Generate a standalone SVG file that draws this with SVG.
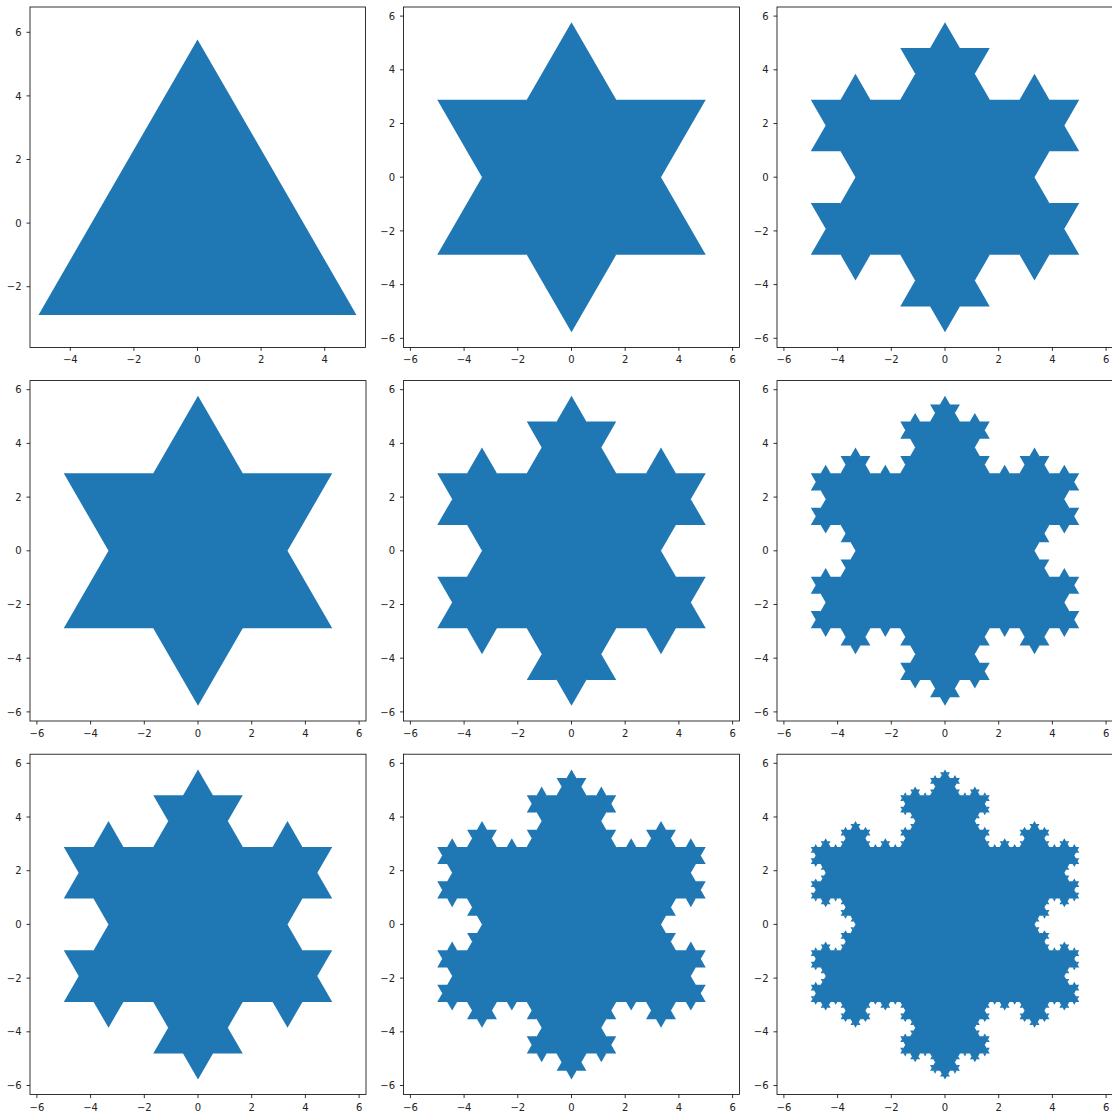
<svg xmlns="http://www.w3.org/2000/svg" width="1112" height="1116" viewBox="0 0 1112 1116">
<style>
.f{fill:#1f77b4}
.ax{fill:none;stroke:#000;stroke-width:0.8}
.tk{fill:none;stroke:#000;stroke-width:0.8}
text{font-family:"DejaVu Sans","Liberation Sans",sans-serif;font-size:10px;fill:#222}
.xl{text-anchor:middle}
.yl{text-anchor:end}
</style>
<defs>
<polygon id="b1" class="f" points="0.3333333,0 0.5,-0.2886751 0.6666667,0 0.6,0.03 0.4,0.03"/>
<g id="b2"><use href="#b1"/><use href="#b1" transform="scale(0.3333333)"/><use href="#b1" transform="translate(0.3333333,0) rotate(-60) scale(0.3333333)"/><use href="#b1" transform="translate(0.5,-0.2886751) rotate(60) scale(0.3333333)"/><use href="#b1" transform="translate(0.6666667,0) scale(0.3333333)"/></g>
<g id="b3"><use href="#b1"/><use href="#b2" transform="scale(0.3333333)"/><use href="#b2" transform="translate(0.3333333,0) rotate(-60) scale(0.3333333)"/><use href="#b2" transform="translate(0.5,-0.2886751) rotate(60) scale(0.3333333)"/><use href="#b2" transform="translate(0.6666667,0) scale(0.3333333)"/></g>
<g id="b4"><use href="#b1"/><use href="#b3" transform="scale(0.3333333)"/><use href="#b3" transform="translate(0.3333333,0) rotate(-60) scale(0.3333333)"/><use href="#b3" transform="translate(0.5,-0.2886751) rotate(60) scale(0.3333333)"/><use href="#b3" transform="translate(0.6666667,0) scale(0.3333333)"/></g>
<polygon id="k0" class="f" points="-5,-2.8867513 5,-2.8867513 0,5.7735027"/>
<g id="k1"><use href="#k0"/><use href="#b1" transform="translate(-5,-2.8867513) scale(10)"/><use href="#b1" transform="translate(5,-2.8867513) rotate(120) scale(10)"/><use href="#b1" transform="translate(0,5.7735027) rotate(240) scale(10)"/></g>
<g id="k2"><use href="#k0"/><use href="#b2" transform="translate(-5,-2.8867513) scale(10)"/><use href="#b2" transform="translate(5,-2.8867513) rotate(120) scale(10)"/><use href="#b2" transform="translate(0,5.7735027) rotate(240) scale(10)"/></g>
<g id="k3"><use href="#k0"/><use href="#b3" transform="translate(-5,-2.8867513) scale(10)"/><use href="#b3" transform="translate(5,-2.8867513) rotate(120) scale(10)"/><use href="#b3" transform="translate(0,5.7735027) rotate(240) scale(10)"/></g>
<g id="k4"><use href="#k0"/><use href="#b4" transform="translate(-5,-2.8867513) scale(10)"/><use href="#b4" transform="translate(5,-2.8867513) rotate(120) scale(10)"/><use href="#b4" transform="translate(0,5.7735027) rotate(240) scale(10)"/></g>
</defs>
<rect width="1112" height="1116" fill="#fff"/>

<g id="p1">
<g transform="translate(197.5,223.1) scale(31.8,-31.8)"><use href="#k0"/></g>
<rect class="ax" x="30" y="7" width="335.5" height="340.4"/>
<path class="tk" d="M70.3,347.4v3.5M133.9,347.4v3.5M197.5,347.4v3.5M261.1,347.4v3.5M324.7,347.4v3.5M30,32.3h-3.5M30,95.9h-3.5M30,159.5h-3.5M30,223.1h-3.5M30,286.7h-3.5"/>
<text class="xl" x="70.3" y="363.4">−4</text><text class="xl" x="133.9" y="363.4">−2</text><text class="xl" x="197.5" y="363.4">0</text><text class="xl" x="261.1" y="363.4">2</text><text class="xl" x="324.7" y="363.4">4</text>
<text class="yl" x="21.5" y="35.9">6</text><text class="yl" x="21.5" y="99.5">4</text><text class="yl" x="21.5" y="163.1">2</text><text class="yl" x="21.5" y="226.7">0</text><text class="yl" x="21.5" y="290.3">−2</text>
</g>

<g id="p2">
<g transform="translate(571.5,177.2) scale(26.85,-26.85)"><use href="#k1"/></g>
<rect class="ax" x="403.5" y="7" width="336" height="340.4"/>
<path class="tk" d="M410.4,347.4v3.5M464.1,347.4v3.5M517.8,347.4v3.5M571.5,347.4v3.5M625.2,347.4v3.5M678.9,347.4v3.5M732.6,347.4v3.5M403.5,16.1h-3.5M403.5,69.8h-3.5M403.5,123.5h-3.5M403.5,177.2h-3.5M403.5,230.9h-3.5M403.5,284.6h-3.5M403.5,338.3h-3.5"/>
<text class="xl" x="410.4" y="363.4">−6</text><text class="xl" x="464.1" y="363.4">−4</text><text class="xl" x="517.8" y="363.4">−2</text><text class="xl" x="571.5" y="363.4">0</text><text class="xl" x="625.2" y="363.4">2</text><text class="xl" x="678.9" y="363.4">4</text><text class="xl" x="732.6" y="363.4">6</text>
<text class="yl" x="395" y="19.7">6</text><text class="yl" x="395" y="73.4">4</text><text class="yl" x="395" y="127.1">2</text><text class="yl" x="395" y="180.8">0</text><text class="yl" x="395" y="234.5">−2</text><text class="yl" x="395" y="288.2">−4</text><text class="yl" x="395" y="341.9">−6</text>
</g>

<g id="p3">
<g transform="translate(945,177.2) scale(26.85,-26.85)"><use href="#k2"/></g>
<rect class="ax" x="777" y="7" width="336" height="340.4"/>
<path class="tk" d="M783.9,347.4v3.5M837.6,347.4v3.5M891.3,347.4v3.5M945,347.4v3.5M998.7,347.4v3.5M1052.4,347.4v3.5M1106.1,347.4v3.5M777,16.1h-3.5M777,69.8h-3.5M777,123.5h-3.5M777,177.2h-3.5M777,230.9h-3.5M777,284.6h-3.5M777,338.3h-3.5"/>
<text class="xl" x="783.9" y="363.4">−6</text><text class="xl" x="837.6" y="363.4">−4</text><text class="xl" x="891.3" y="363.4">−2</text><text class="xl" x="945" y="363.4">0</text><text class="xl" x="998.7" y="363.4">2</text><text class="xl" x="1052.4" y="363.4">4</text><text class="xl" x="1106.1" y="363.4">6</text>
<text class="yl" x="768.5" y="19.7">6</text><text class="yl" x="768.5" y="73.4">4</text><text class="yl" x="768.5" y="127.1">2</text><text class="yl" x="768.5" y="180.8">0</text><text class="yl" x="768.5" y="234.5">−2</text><text class="yl" x="768.5" y="288.2">−4</text><text class="yl" x="768.5" y="341.9">−6</text>
</g>

<g id="p4">
<g transform="translate(198,550.8) scale(26.85,-26.85)"><use href="#k1"/></g>
<rect class="ax" x="30" y="380.6" width="336" height="340.4"/>
<path class="tk" d="M36.9,721v3.5M90.6,721v3.5M144.3,721v3.5M198,721v3.5M251.7,721v3.5M305.4,721v3.5M359.1,721v3.5M30,389.7h-3.5M30,443.4h-3.5M30,497.1h-3.5M30,550.8h-3.5M30,604.5h-3.5M30,658.2h-3.5M30,711.9h-3.5"/>
<text class="xl" x="36.9" y="737">−6</text><text class="xl" x="90.6" y="737">−4</text><text class="xl" x="144.3" y="737">−2</text><text class="xl" x="198" y="737">0</text><text class="xl" x="251.7" y="737">2</text><text class="xl" x="305.4" y="737">4</text><text class="xl" x="359.1" y="737">6</text>
<text class="yl" x="21.5" y="393.3">6</text><text class="yl" x="21.5" y="447">4</text><text class="yl" x="21.5" y="500.7">2</text><text class="yl" x="21.5" y="554.4">0</text><text class="yl" x="21.5" y="608.1">−2</text><text class="yl" x="21.5" y="661.8">−4</text><text class="yl" x="21.5" y="715.5">−6</text>
</g>

<g id="p5">
<g transform="translate(571.5,550.8) scale(26.85,-26.85)"><use href="#k2"/></g>
<rect class="ax" x="403.5" y="380.6" width="336" height="340.4"/>
<path class="tk" d="M410.4,721v3.5M464.1,721v3.5M517.8,721v3.5M571.5,721v3.5M625.2,721v3.5M678.9,721v3.5M732.6,721v3.5M403.5,389.7h-3.5M403.5,443.4h-3.5M403.5,497.1h-3.5M403.5,550.8h-3.5M403.5,604.5h-3.5M403.5,658.2h-3.5M403.5,711.9h-3.5"/>
<text class="xl" x="410.4" y="737">−6</text><text class="xl" x="464.1" y="737">−4</text><text class="xl" x="517.8" y="737">−2</text><text class="xl" x="571.5" y="737">0</text><text class="xl" x="625.2" y="737">2</text><text class="xl" x="678.9" y="737">4</text><text class="xl" x="732.6" y="737">6</text>
<text class="yl" x="395" y="393.3">6</text><text class="yl" x="395" y="447">4</text><text class="yl" x="395" y="500.7">2</text><text class="yl" x="395" y="554.4">0</text><text class="yl" x="395" y="608.1">−2</text><text class="yl" x="395" y="661.8">−4</text><text class="yl" x="395" y="715.5">−6</text>
</g>

<g id="p6">
<g transform="translate(945,550.8) scale(26.85,-26.85)"><use href="#k3"/></g>
<rect class="ax" x="777" y="380.6" width="336" height="340.4"/>
<path class="tk" d="M783.9,721v3.5M837.6,721v3.5M891.3,721v3.5M945,721v3.5M998.7,721v3.5M1052.4,721v3.5M1106.1,721v3.5M777,389.7h-3.5M777,443.4h-3.5M777,497.1h-3.5M777,550.8h-3.5M777,604.5h-3.5M777,658.2h-3.5M777,711.9h-3.5"/>
<text class="xl" x="783.9" y="737">−6</text><text class="xl" x="837.6" y="737">−4</text><text class="xl" x="891.3" y="737">−2</text><text class="xl" x="945" y="737">0</text><text class="xl" x="998.7" y="737">2</text><text class="xl" x="1052.4" y="737">4</text><text class="xl" x="1106.1" y="737">6</text>
<text class="yl" x="768.5" y="393.3">6</text><text class="yl" x="768.5" y="447">4</text><text class="yl" x="768.5" y="500.7">2</text><text class="yl" x="768.5" y="554.4">0</text><text class="yl" x="768.5" y="608.1">−2</text><text class="yl" x="768.5" y="661.8">−4</text><text class="yl" x="768.5" y="715.5">−6</text>
</g>

<g id="p7">
<g transform="translate(198,924.4) scale(26.85,-26.85)"><use href="#k2"/></g>
<rect class="ax" x="30" y="754.2" width="336" height="340.4"/>
<path class="tk" d="M36.9,1094.6v3.5M90.6,1094.6v3.5M144.3,1094.6v3.5M198,1094.6v3.5M251.7,1094.6v3.5M305.4,1094.6v3.5M359.1,1094.6v3.5M30,763.3h-3.5M30,817h-3.5M30,870.7h-3.5M30,924.4h-3.5M30,978.1h-3.5M30,1031.8h-3.5M30,1085.5h-3.5"/>
<text class="xl" x="36.9" y="1110.6">−6</text><text class="xl" x="90.6" y="1110.6">−4</text><text class="xl" x="144.3" y="1110.6">−2</text><text class="xl" x="198" y="1110.6">0</text><text class="xl" x="251.7" y="1110.6">2</text><text class="xl" x="305.4" y="1110.6">4</text><text class="xl" x="359.1" y="1110.6">6</text>
<text class="yl" x="21.5" y="766.9">6</text><text class="yl" x="21.5" y="820.6">4</text><text class="yl" x="21.5" y="874.3">2</text><text class="yl" x="21.5" y="928">0</text><text class="yl" x="21.5" y="981.7">−2</text><text class="yl" x="21.5" y="1035.4">−4</text><text class="yl" x="21.5" y="1089.1">−6</text>
</g>

<g id="p8">
<g transform="translate(571.5,924.4) scale(26.85,-26.85)"><use href="#k3"/></g>
<rect class="ax" x="403.5" y="754.2" width="336" height="340.4"/>
<path class="tk" d="M410.4,1094.6v3.5M464.1,1094.6v3.5M517.8,1094.6v3.5M571.5,1094.6v3.5M625.2,1094.6v3.5M678.9,1094.6v3.5M732.6,1094.6v3.5M403.5,763.3h-3.5M403.5,817h-3.5M403.5,870.7h-3.5M403.5,924.4h-3.5M403.5,978.1h-3.5M403.5,1031.8h-3.5M403.5,1085.5h-3.5"/>
<text class="xl" x="410.4" y="1110.6">−6</text><text class="xl" x="464.1" y="1110.6">−4</text><text class="xl" x="517.8" y="1110.6">−2</text><text class="xl" x="571.5" y="1110.6">0</text><text class="xl" x="625.2" y="1110.6">2</text><text class="xl" x="678.9" y="1110.6">4</text><text class="xl" x="732.6" y="1110.6">6</text>
<text class="yl" x="395" y="766.9">6</text><text class="yl" x="395" y="820.6">4</text><text class="yl" x="395" y="874.3">2</text><text class="yl" x="395" y="928">0</text><text class="yl" x="395" y="981.7">−2</text><text class="yl" x="395" y="1035.4">−4</text><text class="yl" x="395" y="1089.1">−6</text>
</g>

<g id="p9">
<g transform="translate(945,924.4) scale(26.85,-26.85)"><use href="#k4"/></g>
<rect class="ax" x="777" y="754.2" width="336" height="340.4"/>
<path class="tk" d="M783.9,1094.6v3.5M837.6,1094.6v3.5M891.3,1094.6v3.5M945,1094.6v3.5M998.7,1094.6v3.5M1052.4,1094.6v3.5M1106.1,1094.6v3.5M777,763.3h-3.5M777,817h-3.5M777,870.7h-3.5M777,924.4h-3.5M777,978.1h-3.5M777,1031.8h-3.5M777,1085.5h-3.5"/>
<text class="xl" x="783.9" y="1110.6">−6</text><text class="xl" x="837.6" y="1110.6">−4</text><text class="xl" x="891.3" y="1110.6">−2</text><text class="xl" x="945" y="1110.6">0</text><text class="xl" x="998.7" y="1110.6">2</text><text class="xl" x="1052.4" y="1110.6">4</text><text class="xl" x="1106.1" y="1110.6">6</text>
<text class="yl" x="768.5" y="766.9">6</text><text class="yl" x="768.5" y="820.6">4</text><text class="yl" x="768.5" y="874.3">2</text><text class="yl" x="768.5" y="928">0</text><text class="yl" x="768.5" y="981.7">−2</text><text class="yl" x="768.5" y="1035.4">−4</text><text class="yl" x="768.5" y="1089.1">−6</text>
</g>
</svg>
